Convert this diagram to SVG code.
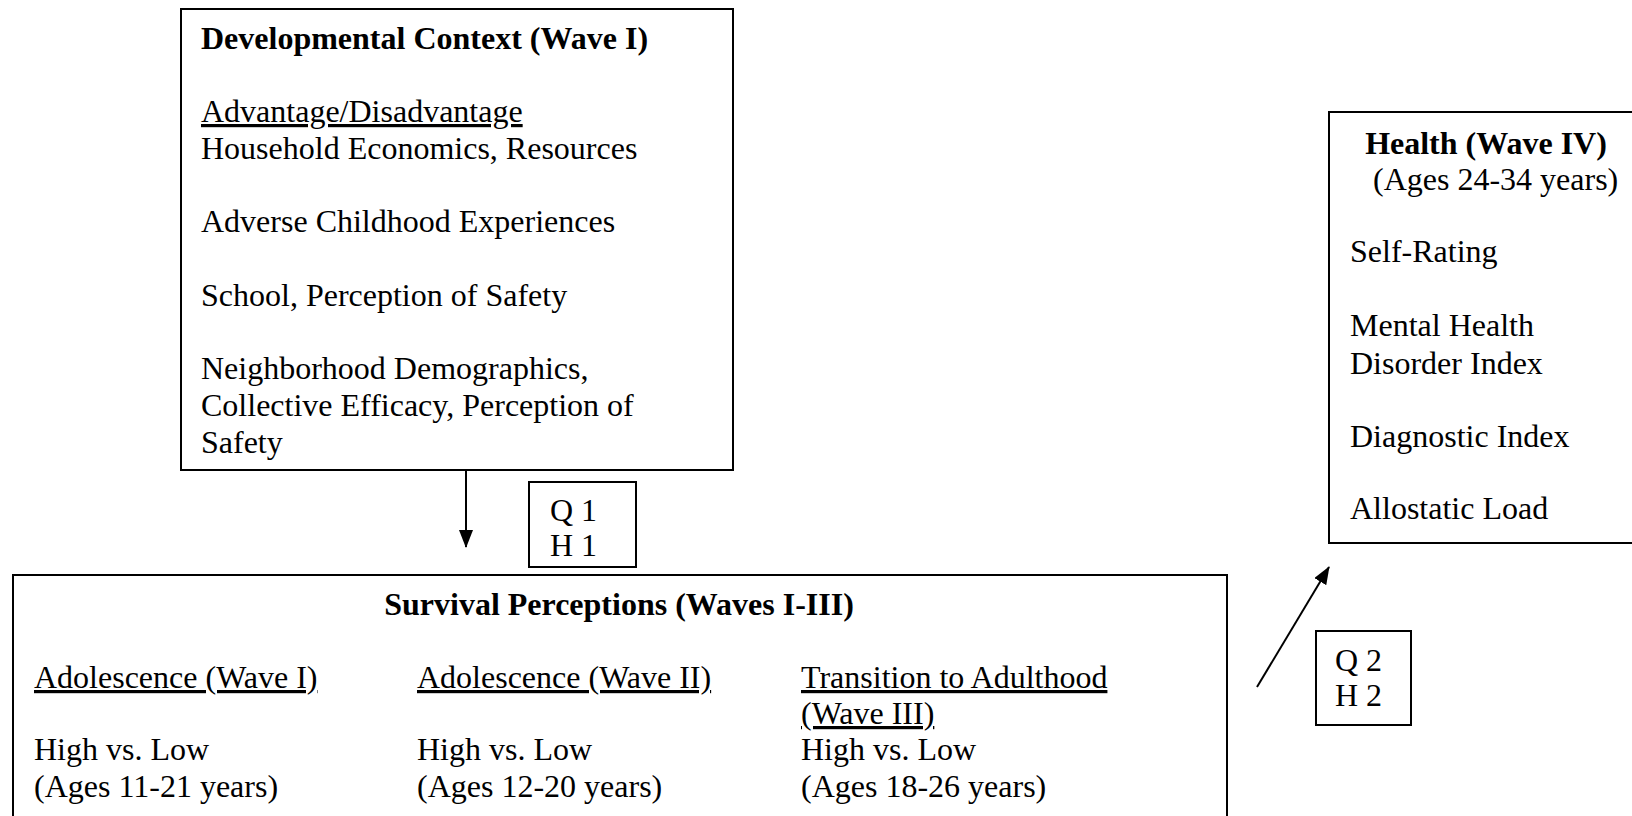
<svg xmlns="http://www.w3.org/2000/svg" width="1632" height="816" viewBox="0 0 1632 816">
<style>
.box{fill:#fff;stroke:#000;stroke-width:2}
.t{font-family:"Liberation Serif","Times New Roman",serif;font-size:32px;fill:#000}
.b{font-weight:bold}
.u{text-decoration:underline}
.conn{stroke:#000;stroke-width:2;fill:none}
</style>
<defs>
<marker id="arr" markerUnits="userSpaceOnUse" markerWidth="18" markerHeight="14" refX="17" refY="7" orient="auto">
<path d="M0,0 L18,7 L0,14 Z" fill="#000"/>
</marker>
</defs>
<rect width="1632" height="816" fill="#fff"/>
<g id="developmental-context">
<rect class="box" x="181" y="9" width="552" height="461"/>
<text class="t b" x="201" y="49">Developmental Context (Wave I)</text>
<text class="t u" x="201" y="122">Advantage/Disadvantage</text>
<text class="t" x="201" y="159">Household Economics, Resources</text>
<text class="t" x="201" y="232">Adverse Childhood Experiences</text>
<text class="t" x="201" y="306">School, Perception of Safety</text>
<text class="t" x="201" y="379">Neighborhood Demographics,</text>
<text class="t" x="201" y="416">Collective Efficacy, Perception of</text>
<text class="t" x="201" y="453">Safety</text>
</g>
<g id="q1h1">
<rect class="box" x="529" y="482" width="107" height="85"/>
<text class="t" x="550" y="521">Q 1</text>
<text class="t" x="550" y="556">H 1</text>
</g>
<g id="survival-perceptions">
<rect class="box" x="13" y="575" width="1214" height="260"/>
<text class="t b" x="619" y="615" text-anchor="middle">Survival Perceptions (Waves I-III)</text>
<text class="t u" x="34" y="688">Adolescence (Wave I)</text>
<text class="t" x="34" y="760">High vs. Low</text>
<text class="t" x="34" y="797">(Ages 11-21 years)</text>
<text class="t u" x="417" y="688">Adolescence (Wave II)</text>
<text class="t" x="417" y="760">High vs. Low</text>
<text class="t" x="417" y="797">(Ages 12-20 years)</text>
<text class="t u" x="801" y="688">Transition to Adulthood</text>
<text class="t u" x="801" y="724">(Wave III)</text>
<text class="t" x="801" y="760">High vs. Low</text>
<text class="t" x="801" y="797">(Ages 18-26 years)</text>
</g>
<g id="q2h2">
<rect class="box" x="1316" y="631" width="95" height="94"/>
<text class="t" x="1335" y="671">Q 2</text>
<text class="t" x="1335" y="706">H 2</text>
</g>
<g id="health">
<rect class="box" x="1329" y="112" width="320" height="431"/>
<text class="t b" x="1486" y="154" text-anchor="middle">Health (Wave IV)</text>
<text class="t" x="1373" y="190">(Ages 24-34 years)</text>
<text class="t" x="1350" y="262">Self-Rating</text>
<text class="t" x="1350" y="336">Mental Health</text>
<text class="t" x="1350" y="374">Disorder Index</text>
<text class="t" x="1350" y="447">Diagnostic Index</text>
<text class="t" x="1350" y="519">Allostatic Load</text>
</g>
<g id="connectors">
<line class="conn" x1="466" y1="470" x2="466" y2="547" marker-end="url(#arr)"/>
<line class="conn" x1="1257" y1="687" x2="1329" y2="567" marker-end="url(#arr)"/>
</g>
</svg>
